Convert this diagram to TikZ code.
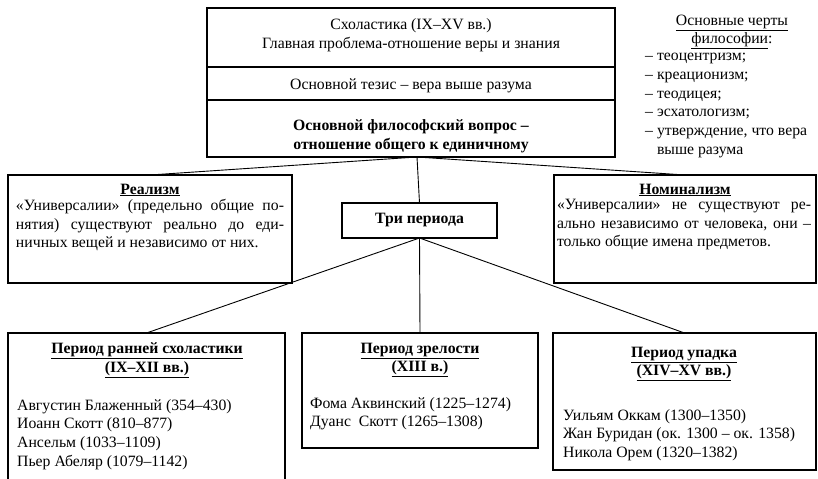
\documentclass[tikz,border=0pt]{standalone}
\usepackage{fontspec}
\setmainfont{Liberation Serif}
\usetikzlibrary{positioning}
\newcommand\fsz{\fontsize{15.8}{18.8}\selectfont}

\begin{document}
\begin{tikzpicture}[x=1bp,y=-1bp,
  box/.style={draw,line width=1.1bp,inner sep=0pt,outer sep=0pt,anchor=north west},
  txt/.style={inner sep=0pt,font=\fsz},
  head/.style={inner sep=0pt,font=\fsz\bfseries,align=center},
  link/.style={line width=0.9bp}]
  \useasboundingbox (0,0) rectangle (818,479);
  \clip (0,0) rectangle (818,479);

  \node[box,minimum width=408bp,minimum height=59bp] (sch) at (207,8) {};
  \node[box,minimum width=408bp,minimum height=33bp] (thesis) at (207,67) {};
  \node[box,minimum width=408bp,minimum height=57bp] (quest) at (207,100) {};
  \node[txt,align=center] (schtxt) at (411,35) {Схоластика (IX–XV вв.)\\Главная проблема-отношение веры и знания};
  \node[txt] (thesistxt) at (411,86) {Основной тезис – вера выше разума};
  \node[head] (questtxt) at (411,136) {Основной философский вопрос –\\отношение общего к единичному};

  \node[txt,align=center] (notehead) at (732,32) {\underline{Основные черты}\\\underline{философии}:};
  \node[txt,align=left,anchor=north west] (notes) at (645,53)
    {– теоцентризм;\\– креационизм;\\– теодицея;\\– эсхатологизм;\\– утверждение, что вера\\\phantom{– }выше разума};

  \node[box,minimum width=284bp,minimum height=108bp] (real) at (8,175) {};
  \node[head] (realhead) at (150,190) {\underline{Реализм}};
  \node[txt,text width=268bp,align=justify,anchor=north] (realtxt) at (150,199)
    {«Универсалии» (предельно общие по-\linebreak нятия) существуют реально до еди-\linebreak ничных вещей и независимо от них.};

  \node[box,minimum width=262bp,minimum height=108bp] (nom) at (554,175) {};
  \node[head] (nomhead) at (685,190) {\underline{Номинализм}};
  \node[txt,text width=254bp,align=justify,anchor=north] (nomtxt) at (684,199)
    {«Универсалии» не существуют ре-\linebreak ально независимо от человека, они –\linebreak только общие имена предметов.};

  \node[box,minimum width=155bp,minimum height=35bp] (three) at (342,203) {};
  \node[head] (threetxt) at (three.center) {Три периода};

  \node[box,minimum width=277bp,minimum height=160bp] (early) at (8,333) {};
  \node[head] (earlyhead) at (147,360) {\underline{Период ранней схоластики}\\\underline{(IX–XII вв.)}};
  \node[txt,align=left,anchor=north west] (earlytxt) at (17,399)
    {Августин Блаженный (354–430)\\Иоанн Скотт (810–877)\\Ансельм (1033–1109)\\Пьер Абеляр (1079–1142)};

  \node[box,minimum width=236bp,minimum height=115bp] (mature) at (302,333) {};
  \node[head] (maturehead) at (420,360) {\underline{Период зрелости}\\\underline{(XIII в.)}};
  \node[txt,align=left,anchor=north west] (maturetxt) at (310,397)
    {Фома Аквинский (1225–1274)\\Дуанс\ \ Скотт (1265–1308)};

  \node[box,minimum width=263bp,minimum height=137bp] (decline) at (553,333) {};
  \node[head] (declinehead) at (684,364) {\underline{Период упадка}\\\underline{(XIV–XV вв.)}};
  \node[txt,align=left,anchor=north west] (declinetxt) at (563,409)
    {Уильям Оккам (1300–1350)\\Жан Буридан (ок. 1300 – ок. 1358)\\Никола Орем (1320–1382)};

  \coordinate (fork) at (417,157);
  \draw[link] (fork) -- (real.north);
  \draw[link] (fork) -- (nom.north);
  \draw[link] (fork) -- (three.north);
  \draw[link] (three.south) -- (early.north);
  \draw[link] (three.south) -- (mature.north);
  \draw[link] (three.south) -- (decline.north);
\end{tikzpicture}
\end{document}
